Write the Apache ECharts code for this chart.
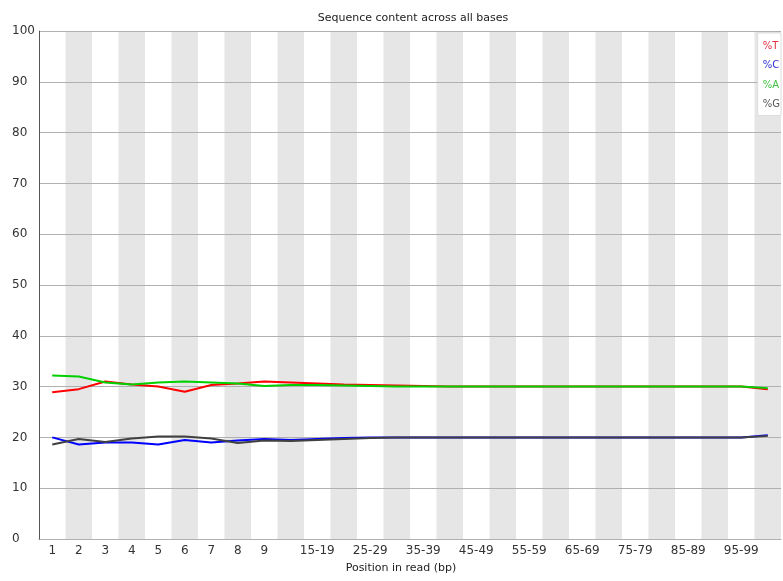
<!DOCTYPE html>
<html>
<head>
<meta charset="utf-8">
<script src="https://cdn.jsdelivr.net/npm/echarts@6/dist/echarts.min.js"></script>
<style>html,body{margin:0;padding:0;background:#fff;}#c{width:783px;height:581px;}</style>
</head>
<body>
<div id="c"></div>
<script>
const categories = ['1','2','3','4','5','6','7','8','9','10-14','15-19','20-24','25-29','30-34','35-39','40-44','45-49','50-54','55-59','60-64','65-69','70-74','75-79','80-84','85-89','90-94','95-99','100-101'];
const pctT = [28.9,29.5,31.0,30.4,30.0,29.0,30.3,30.6,31.0,30.8,30.6,30.4,30.3,30.2,30.1,30.0,30.0,30.0,30.0,30.0,30.0,30.0,30.0,30.0,30.0,30.0,30.0,29.5];
const pctC = [20.0,18.6,19.0,19.0,18.6,19.5,19.0,19.4,19.7,19.5,19.7,19.9,20.0,20.0,20.0,20.0,20.0,20.0,20.0,20.0,20.0,20.0,20.0,20.0,20.0,20.0,20.0,20.4];
const pctA = [32.2,32.0,30.8,30.4,30.8,31.0,30.8,30.6,30.1,30.3,30.3,30.2,30.1,30.0,30.0,30.0,30.0,30.0,30.0,30.0,30.0,30.0,30.0,30.0,30.0,30.0,30.0,29.7];
const pctG = [18.6,19.7,19.1,19.8,20.2,20.2,19.8,18.9,19.4,19.3,19.5,19.7,19.9,20.0,20.0,20.0,20.0,20.0,20.0,20.0,20.0,20.0,20.0,20.0,20.0,20.0,20.0,20.3];
const yTicks = [0,10,20,30,40,50,60,70,80,90,100];

const FONT = 'DejaVu Sans';
const chart = echarts.init(document.getElementById('c'), null, {renderer:'canvas'});
function ser(name, data, color){
  return {name, type:'line', data, symbol:'none', smooth:false, z:5,
    lineStyle:{color, width:2}, itemStyle:{color}, animation:false};
}
chart.setOption({
  animation:false,
  title:{text:'Sequence content across all bases', left:408, top:8, textAlign:'center',
    textStyle:{fontFamily:FONT, fontSize:11, fontWeight:'normal', color:'#222'}},
  grid:{left:39, right:2, top:31, bottom:42, containLabel:false},
  legend:{orient:'vertical', right:2, top:33, icon:'none', itemWidth:0, itemHeight:12, itemGap:8.5,
    padding:[7,1,6,0], backgroundColor:'#fff', borderColor:'#ddd', borderWidth:1,
    selectedMode:false, z:10,
    textStyle:{fontFamily:FONT, fontSize:10},
    data:[{name:'%T', textStyle:{color:'#e03040'}},{name:'%C', textStyle:{color:'#3030d0'}},
          {name:'%A', textStyle:{color:'#40c040'}},{name:'%G', textStyle:{color:'#555'}}]},
  xAxis:{type:'category', data:categories, boundaryGap:true, z:0,
    name:'Position in read (bp)', nameLocation:'middle', nameGap:24,
    nameTextStyle:{fontFamily:FONT, fontSize:11, color:'#222', padding:[0,18,0,0]},
    axisLine:{lineStyle:{color:'#aaa'}}, axisTick:{show:false},
    axisLabel:{interval:(i)=> i<9 || i%2===0, fontFamily:FONT, fontSize:12, color:'#333', margin:6},
    splitLine:{show:false},
    splitArea:{show:true, interval:0, areaStyle:{color:['#ffffff','#e6e6e6']}}},
  yAxis:{type:'value', min:0, max:100, interval:10, z:2,
    axisLine:{show:true, lineStyle:{color:'#555'}}, axisTick:{show:false},
    axisLabel:{fontFamily:FONT, fontSize:12, color:'#333', margin:27, align:'left',
      formatter:(v)=> yTicks.includes(v) ? String(v) : ''},
    splitLine:{show:true, lineStyle:{color:'#b0b0b0', width:1}}},
  series:[ser('%T',pctT,'#ff0000'), ser('%C',pctC,'#0000ff'), ser('%A',pctA,'#00d000'), ser('%G',pctG,'#404040')]
});
</script>
</body>
</html>
